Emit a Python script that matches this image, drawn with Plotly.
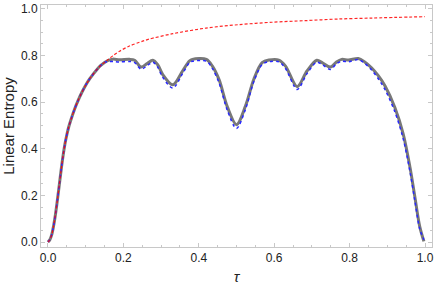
import plotly.graph_objects as go

# shared rising segment (all three curves coincide here)
tau_rise = [0.0, 0.005, 0.01, 0.015, 0.02, 0.025, 0.03, 0.035, 0.04, 0.045, 0.05, 0.055, 0.06,
            0.07, 0.08, 0.09, 0.1, 0.11, 0.12, 0.13, 0.14, 0.15]
val_rise = [0.0, 0.01, 0.032, 0.07, 0.12, 0.18, 0.245, 0.31, 0.37, 0.42, 0.46, 0.493, 0.52,
            0.567, 0.607, 0.642, 0.672, 0.698, 0.72, 0.74, 0.757, 0.77]

# gray (thick solid) curve, after the rise
tau_gray_rest = [0.16, 0.172, 0.19, 0.216, 0.23, 0.247, 0.263, 0.278, 0.291, 0.304, 0.331, 0.357, 0.375,
                 0.383, 0.42, 0.436, 0.454, 0.476, 0.5, 0.524, 0.546, 0.568, 0.586, 0.612, 0.63,
                 0.661, 0.687, 0.713, 0.728, 0.749, 0.765, 0.779, 0.797, 0.823, 0.84, 0.858, 0.876, 0.894,
                 0.92, 0.942, 0.96, 0.973, 0.986, 0.997]
val_gray_rest = [0.779, 0.784, 0.781, 0.783, 0.779, 0.750, 0.765, 0.779, 0.760, 0.719, 0.674, 0.733, 0.776,
                 0.783, 0.783, 0.754, 0.695, 0.578, 0.503, 0.584, 0.698, 0.769, 0.780, 0.780, 0.754,
                 0.666, 0.733, 0.779, 0.768, 0.750, 0.772, 0.783, 0.780, 0.787, 0.772, 0.747, 0.713, 0.669,
                 0.577, 0.464, 0.322, 0.194, 0.066, 0.003]

# blue (dotted) curve, after the rise
val_blue_rest = [0.773, 0.774, 0.772, 0.774, 0.769, 0.741, 0.756, 0.771, 0.750, 0.707, 0.660, 0.722, 0.768,
                 0.775, 0.775, 0.744, 0.681, 0.563, 0.487, 0.570, 0.688, 0.761, 0.773, 0.773, 0.744,
                 0.654, 0.722, 0.771, 0.760, 0.740, 0.764, 0.775, 0.773, 0.782, 0.766, 0.738, 0.700, 0.653,
                 0.558, 0.443, 0.303, 0.178, 0.056, 0.010]

# red (dashed) curve, after the rise
tau_red_rest = [0.16, 0.172, 0.19, 0.216, 0.251, 0.269, 0.331, 0.419, 0.507, 0.594, 0.683, 0.77, 0.858, 1.0]
val_red_rest = [0.783, 0.798, 0.818, 0.840, 0.861, 0.870, 0.893, 0.917, 0.932, 0.942, 0.949, 0.956, 0.960, 0.966]

x_ticks = [0.0, 0.2, 0.4, 0.6, 0.8, 1.0]
x_tick_labels = ["0.0", "0.2", "0.4", "0.6", "0.8", "1.0"]
y_ticks = [0.0, 0.2, 0.4, 0.6, 0.8, 1.0]
y_tick_labels = ["0.0", "0.2", "0.4", "0.6", "0.8", "1.0"]

fig = go.Figure()
fig.add_trace(go.Scatter(x=tau_rise + tau_gray_rest, y=val_rise + val_gray_rest, mode="lines",
                         line=dict(color="rgb(120,120,120)", width=3, shape="spline", smoothing=0.9)))
fig.add_trace(go.Scatter(x=tau_rise + tau_gray_rest, y=val_rise + val_blue_rest, mode="lines",
                         line=dict(color="rgb(40,40,255)", width=1.5, dash="dot", shape="spline", smoothing=0.9)))
fig.add_trace(go.Scatter(x=tau_rise + tau_red_rest, y=val_rise + val_red_rest, mode="lines",
                         line=dict(color="rgba(255,0,0,0.85)", width=1.2, dash="3px,2px", shape="spline", smoothing=0.9)))

frame = "rgb(200,200,200)"
font = "Liberation Sans, Arial, sans-serif"
fig.update_layout(
    width=436, height=285,
    margin=dict(l=41, r=2, t=4, b=38),
    paper_bgcolor="white", plot_bgcolor="white",
    showlegend=False,
    font=dict(family=font, size=12, color="#222"),
    xaxis=dict(range=[-0.0185, 1.0185], tickvals=x_ticks, ticktext=x_tick_labels,
               showgrid=False, zeroline=False, showline=True, linecolor=frame, linewidth=1,
               mirror="allticks", ticks="inside", ticklen=4, tickcolor=frame,
               minor=dict(ticks="inside", dtick=0.05, ticklen=2, tickcolor=frame),
               title=dict(text="<i>τ</i>", font=dict(size=15, family=font), standoff=7)),
    yaxis=dict(range=[-0.0213, 1.016], tickvals=y_ticks, ticktext=y_tick_labels,
               showgrid=False, zeroline=False, showline=True, linecolor=frame, linewidth=1,
               mirror="allticks", ticks="inside", ticklen=4, tickcolor=frame,
               minor=dict(ticks="inside", dtick=0.05, ticklen=2, tickcolor=frame),
               title=dict(text="Linear Entropy", font=dict(size=15, family=font), standoff=6)),
)
fig.write_html("out.html", config={"displayModeBar": False},
               post_script="document.body.style.margin='0';")
